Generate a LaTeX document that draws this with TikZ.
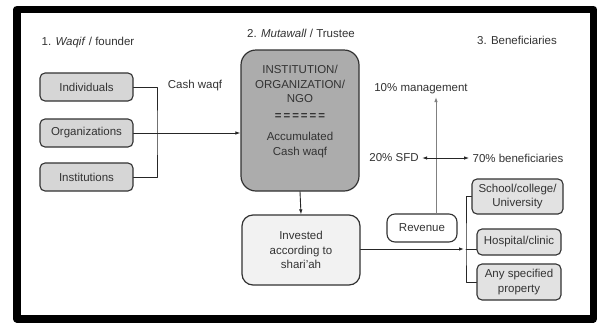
\documentclass[tikz,border=0pt]{standalone}
\usepackage{fontspec}
\setmainfont{Liberation Sans}
\usetikzlibrary{arrows.meta}
\definecolor{boxgray}{RGB}{214,214,214}
\definecolor{darkgray}{RGB}{172,172,172}
\definecolor{lightgray}{RGB}{242,242,242}
\definecolor{benfill}{RGB}{226,226,226}
\definecolor{edge}{RGB}{50,50,50}
\tikzset{
	txt/.style={font=\fontsize{11.5}{14.5}\selectfont, text=black!80, align=center},
	donor/.style={txt, draw=edge, line width=1.1pt, fill=boxgray, rounded corners=5pt, minimum width=93pt, minimum height=28pt, inner sep=0pt},
	benbox/.style={txt, draw=edge, line width=1.1pt, fill=benfill, rounded corners=5pt, minimum width=84pt, inner sep=0pt},
	link/.style={draw=black!85, line width=0.9pt},
	tip/.style={-{Latex[length=5pt,width=3.5pt]}}
}
\begin{document}
\begin{tikzpicture}[x=1pt, y=-1pt, line join=round, line cap=round]
	\useasboundingbox (0,0) rectangle (597,322);
	\fill[white] (0,0) rectangle (597,322);
	\draw[line width=7.5pt] (16.75,9.5) rectangle (593.25,318.75);
	% headings
	\node[txt] (t1) at (88,43) {1. \textit{Waqif} / founder};
	\node[txt] (t2) at (301,33) {2. \textit{Mutawall} / Trustee};
	\node[txt] (t3) at (517,40) {3. Beneficiaries};
	% founders
	\node[donor] (ind) at (86.5,87) {Individuals};
	\node[donor] (org) at (86.5,133) {Organizations};
	\node[donor] (ins) at (86.5,177) {Institutions};
	\node[txt] (cash) at (195,86) {Cash waqf};
	% trustee
	\node[txt, draw=edge, line width=1.2pt, fill=darkgray, rounded corners=15pt, minimum width=118pt, minimum height=141pt, inner sep=0pt] (inst) at (300,120.5) {};
	\node[txt] (name) at (300,84) {INSTITUTION/\\ORGANIZATION/\\NGO};
	\node[txt] (eq) at (300,117) {\textbf{=\kern2pt=\kern2pt=\kern2pt=\kern2pt=\kern2pt=}};
	\node[txt] (acc) at (300,145) {Accumulated\\Cash waqf};
	\node[txt, draw=edge, line width=1.2pt, fill=lightgray, rounded corners=11pt, minimum width=118pt, minimum height=70pt, inner sep=0pt] (inv) at (301,250) {Invested\\according to\\shari'ah};
	\node[txt, draw=edge, line width=1.1pt, fill=white, rounded corners=8pt, minimum width=70pt, minimum height=28pt, inner sep=0pt] (rev) at (422,228) {Revenue};
	% shares
	\node[txt] (mgmt) at (421,89) {10\% management};
	\node[txt] (sfd) at (394,158) {20\% SFD};
	\node[txt] (ben) at (518,158) {70\% beneficiaries};
	% beneficiaries
	\node[benbox, minimum width=91pt, minimum height=35pt] (school) at (517.5,196.5) {School/college/\\University};
	\node[benbox, minimum height=26pt] (hosp) at (519,242) {Hospital/clinic};
	\node[benbox, minimum height=36pt] (prop) at (519,282) {Any specified\\property};
	% connectors
	\coordinate (jl) at (157,133);
	\coordinate (jr) at (466,249);
	\coordinate (up) at (436,97);
	\draw[link] (ind.east) -| (jl) |- (ins.east);
	\draw[link, tip] (org.east) -- (org.east -| inst.west);
	\draw[link, tip] (inst.south) -- (inv.north);
	\draw[link, tip] (inv.east |- jr) -- ([xshift=-2pt]jr);
	\draw[link] (jr) -- (jr -| hosp.west);
	\draw[link] (school.west) -| (jr) |- (prop.west);
	\draw[gray, line width=0.9pt, tip] (rev.north -| up) -- (up);
	\draw[link, {Latex[length=5pt,width=3.5pt]}-{Latex[length=5pt,width=3.5pt]}] (sfd.east) -- (ben.west);
\end{tikzpicture}
\end{document}
